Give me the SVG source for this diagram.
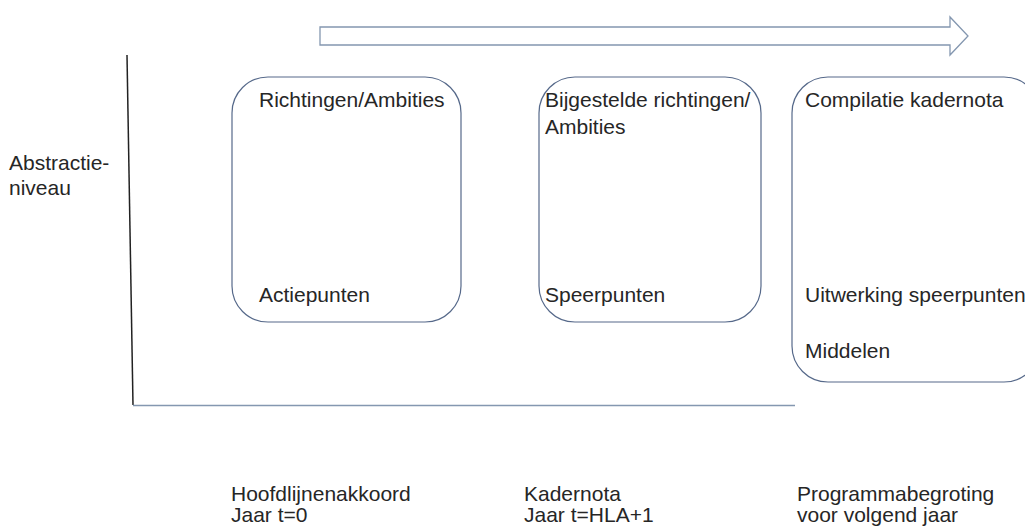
<svg xmlns="http://www.w3.org/2000/svg" width="1025" height="527" viewBox="0 0 1025 527">
<style>
text{font-family:"Liberation Sans",Arial,sans-serif;font-size:21px;fill:#262626}
.box{fill:#ffffff;stroke:#56698a;stroke-width:1.2}
</style>
<rect width="1025" height="527" fill="#ffffff"/>
<g id="axes">
<line x1="127" y1="55" x2="133" y2="405" stroke="#222" stroke-width="1.5"/>
<line x1="133" y1="405.5" x2="795" y2="405.5" stroke="#8497b0" stroke-width="1.5"/>
</g>
<g id="time-arrow">
<path d="M320 27 H950 V17 L968 36 L950 55 V45 H320 Z" fill="#ffffff" stroke="#8497b0" stroke-width="1.3"/>
</g>
<g id="y-label">
<text x="9" y="170">Abstractie-</text>
<text x="9" y="195">niveau</text>
</g>
<g id="node-hla">
<rect class="box" x="232" y="77" width="229" height="245" rx="36"/>
<text x="259" y="107">Richtingen/Ambities</text>
<text x="259" y="302">Actiepunten</text>
</g>
<g id="node-kadernota">
<rect class="box" x="539" y="77" width="222" height="245" rx="36"/>
<text x="545" y="107">Bijgestelde richtingen/</text>
<text x="545" y="134">Ambities</text>
<text x="545" y="302">Speerpunten</text>
</g>
<g id="node-begroting">
<rect class="box" x="792" y="77" width="248" height="305" rx="36"/>
<text x="805" y="107">Compilatie kadernota</text>
<text x="805" y="302">Uitwerking speerpunten</text>
<text x="805" y="358">Middelen</text>
</g>
<g id="bottom-labels">
<text x="231" y="501">Hoofdlijnenakkoord</text>
<text x="231" y="522">Jaar t=0</text>
<text x="524" y="501">Kadernota</text>
<text x="524" y="522">Jaar t=HLA+1</text>
<text x="797" y="501">Programmabegroting</text>
<text x="797" y="522">voor volgend jaar</text>
</g>
</svg>
